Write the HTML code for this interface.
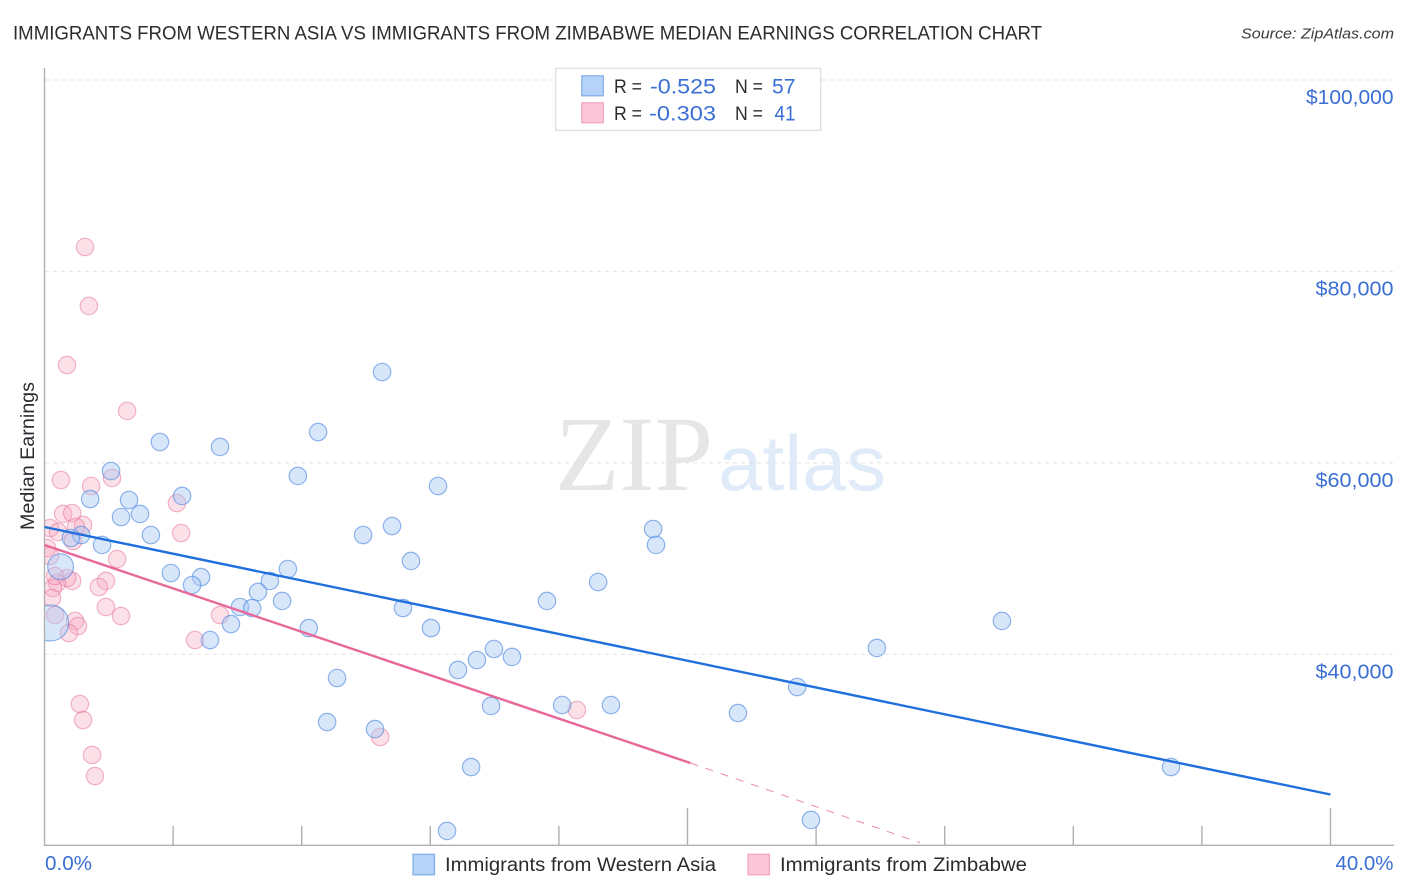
<!DOCTYPE html>
<html lang="en">
<head>
<meta charset="utf-8">
<title>Immigrants from Western Asia vs Immigrants from Zimbabwe Median Earnings Correlation Chart</title>
<style>
html,body{margin:0;padding:0;background:#fff;width:1406px;height:892px;overflow:hidden}
svg{display:block;font-family:"Liberation Sans",sans-serif}
</style>
</head>
<body>
<svg id="chart" width="1406" height="892" viewBox="0 0 1406 892" xmlns="http://www.w3.org/2000/svg">
  <defs>
    <clipPath id="plot-clip"><rect x="45" y="60" width="1355" height="785"/></clipPath>
  </defs>
  <text x="13" y="39.5" font-size="19.5" fill="#2b2b30" textLength="1029" lengthAdjust="spacingAndGlyphs">IMMIGRANTS FROM WESTERN ASIA VS IMMIGRANTS FROM ZIMBABWE MEDIAN EARNINGS CORRELATION CHART</text>
  <text x="1241" y="38.5" font-size="15" font-style="italic" fill="#3a3a40" textLength="153" lengthAdjust="spacingAndGlyphs">Source: ZipAtlas.com</text>

  <g>
    <text x="555" y="490" font-family="'Liberation Serif',serif" font-size="107" fill="#e6e6e6" textLength="158" lengthAdjust="spacingAndGlyphs">ZIP</text>
    <text x="718" y="490" font-size="78" fill="#e0ebfa" textLength="168" lengthAdjust="spacingAndGlyphs">atlas</text>
  </g>

  <g id="grid"></g>
  <g id="axes"></g>
  <g id="points" clip-path="url(#plot-clip)"></g>
  <g id="trends"></g>
  <g id="labels"></g>

  <text transform="translate(34 456) rotate(-90)" text-anchor="middle" font-size="19" fill="#2b2b30" textLength="148" lengthAdjust="spacingAndGlyphs">Median Earnings</text>

  <g>
    <rect x="555.7" y="68.3" width="265" height="62" fill="#fff" stroke="#dcdcdc" stroke-width="1.2"/>
    <rect x="581.8" y="75.8" width="21.5" height="20" fill="#b5d2f8" stroke="#7fabe8" stroke-width="1.2"/>
    <rect x="581.8" y="102.8" width="21.5" height="20" fill="#fcc6d9" stroke="#f2a3bf" stroke-width="1.2"/>
    <text x="614" y="93" font-size="19" fill="#2b2b30" textLength="28" lengthAdjust="spacingAndGlyphs">R =</text>
    <text x="650" y="93.5" font-size="21" fill="#3b6fd4" textLength="66" lengthAdjust="spacingAndGlyphs">-0.525</text>
    <text x="735" y="93" font-size="19" fill="#2b2b30" textLength="28" lengthAdjust="spacingAndGlyphs">N =</text>
    <text x="772" y="93.5" font-size="21" fill="#3b6fd4" textLength="23.5" lengthAdjust="spacingAndGlyphs">57</text>
    <text x="614" y="120" font-size="19" fill="#2b2b30" textLength="28" lengthAdjust="spacingAndGlyphs">R =</text>
    <text x="649" y="120.5" font-size="21" fill="#3b6fd4" textLength="67" lengthAdjust="spacingAndGlyphs">-0.303</text>
    <text x="735" y="120" font-size="19" fill="#2b2b30" textLength="28" lengthAdjust="spacingAndGlyphs">N =</text>
    <text x="774.5" y="120.5" font-size="21" fill="#3b6fd4" textLength="21" lengthAdjust="spacingAndGlyphs">41</text>
  </g>

  <g>
    <rect x="413" y="854.3" width="21.5" height="20.5" fill="#b5d2f8" stroke="#7fabe8" stroke-width="1.2"/>
    <text x="445" y="871" font-size="19" fill="#2b2b30" textLength="271" lengthAdjust="spacingAndGlyphs">Immigrants from Western Asia</text>
    <rect x="748" y="854.3" width="21.5" height="20.5" fill="#fcc6d9" stroke="#f2a3bf" stroke-width="1.2"/>
    <text x="780" y="871" font-size="19" fill="#2b2b30" textLength="247" lengthAdjust="spacingAndGlyphs">Immigrants from Zimbabwe</text>
  </g>
</svg>
<script>
// Tick values and labels
const yTickValues = [100000, 80000, 60000, 40000];
const yTickLabels = ["$100,000", "$80,000", "$60,000", "$40,000"];
const xMinorTicks = [4, 8, 12, 16, 24, 28, 32, 36];
const xMajorTicks = [20, 40];
const xEdgeLabels = ["0.0%", "40.0%"];

// Immigrants from Western Asia: percent, median earnings, relative sample weight
const westernAsiaX = [10.50,8.51,3.59,5.46,2.07,7.88,12.24,1.42,4.28,2.63,2.97,2.38,3.31,1.14,0.82,1.79,9.91,10.81,18.93,19.02,11.40,0.50,7.57,3.93,4.87,4.59,7.01,17.22,6.64,7.39,15.63,6.08,6.46,5.80,5.15,8.22,11.15,12.02,29.78,25.89,13.98,13.45,14.54,12.86,9.10,23.41,16.10,17.62,13.89,21.57,8.79,10.28,13.27,35.04,23.84,12.52,0.19];
const westernAsiaY = [69490,63220,62180,61660,59150,58630,57580,56220,56540,56120,54660,54340,52460,52460,52150,51420,52460,53400,53090,51420,49750,49150,48910,48490,48070,47240,47660,47550,46510,45570,45570,44940,44830,43160,41490,42740,44830,42740,43480,40660,40550,39400,39720,38360,37520,36580,34700,34700,34600,33860,32920,32190,28220,28220,22690,21540,43270];
const westernAsiaWeight = [1,1,1,1,1,1,1,1,1,1,1,1,1,1,1,1,1,1,1,1,1,2.2,1,1,1,1,1,1,1,1,1,1,1,1,1,1,1,1,1,1,1,1,1,1,1,1,1,1,1,1,1,1,1,1,1,1,4.3];

// Immigrants from Zimbabwe: percent, median earnings
const zimbabweX = [1.26,1.38,0.70,2.57,0.51,2.10,1.45,4.12,0.58,0.86,1.20,0.17,0.42,0.98,0.89,4.25,2.26,0.08,0.17,1.91,1.69,0.86,0.70,0.39,0.26,0.33,0.23,1.91,2.38,5.46,4.68,0.33,0.95,1.04,0.76,1.10,1.20,1.48,1.57,10.44,16.56];
const zimbabweY = [82550,76390,70220,65420,58210,58420,57580,55800,54660,54760,53510,53190,52780,53300,51830,52670,49950,51100,50270,47660,47030,47660,47970,47450,46920,48180,45880,44940,44000,44100,41490,44100,43480,42950,42220,34800,33130,29480,27280,31360,34180];

// Regression lines: [start percent, end percent], [start earnings, end earnings]
const westernAsiaTrendX = [0, 40];
const westernAsiaTrendY = [53300, 25350];
const zimbabweTrendX = [0, 20.09];
const zimbabweTrendY = [51420, 28640];
const zimbabweExtrapolatedX = [20.09, 27.23];
const zimbabweExtrapolatedY = [28640, 20310];

// Axis functions
function xScale(p) { return 44.5 + p * 32.15; }
function yScale(v) { return 80 + (100000 - v) * 191.43 / 20000; }
const baseRadius = 8.7;
const NS = "http://www.w3.org/2000/svg";

function make(parent, tag, attrs, text) {
  const el = document.createElementNS(NS, tag);
  for (const k in attrs) el.setAttribute(k, attrs[k]);
  if (text !== undefined) el.textContent = text;
  parent.appendChild(el);
  return el;
}

const gridG = document.getElementById("grid");
const axesG = document.getElementById("axes");
const pointsG = document.getElementById("points");
const trendsG = document.getElementById("trends");
const labelsG = document.getElementById("labels");

yTickValues.forEach(function (v, i) {
  const line = make(gridG, "line", {x1: 45, x2: 1393, y1: yScale(v), y2: yScale(v), stroke: "#e2e2e2", "stroke-width": 1, "stroke-dasharray": "4 4"});
  
  
  const label = make(labelsG, "text", {x: 1393.5, y: yScale(v) + 24, "text-anchor": "end", "font-size": 20, fill: "#3b6fd4", textLength: yTickLabels[i].length === 8 ? 87.5 : 78, lengthAdjust: "spacingAndGlyphs"}, yTickLabels[i]);
  
  
});

const axisColor = "#b0b0b0";
const yAxisLine = make(axesG, "line", {x1: 44.5, x2: 44.5, y1: 68, y2: 846, stroke: axisColor, "stroke-width": 1.4});


const xAxisLine = make(axesG, "line", {x1: 44, x2: 1394, y1: 845.3, y2: 845.3, stroke: axisColor, "stroke-width": 1.4});



xMinorTicks.forEach(function (p) {
  const t = make(axesG, "line", {x1: xScale(p), x2: xScale(p), y1: 826, y2: 845, stroke: axisColor, "stroke-width": 1.4});
  
  
});
xMajorTicks.forEach(function (p) {
  const t = make(axesG, "line", {x1: xScale(p), x2: xScale(p), y1: 808, y2: 845, stroke: axisColor, "stroke-width": 1.4});
  
  
});

const xLabelLeft = make(labelsG, "text", {x: 45, y: 870, "font-size": 20, fill: "#3b6fd4", textLength: 47, lengthAdjust: "spacingAndGlyphs"}, xEdgeLabels[0]);


const xLabelRight = make(labelsG, "text", {x: 1393.5, y: 870, "text-anchor": "end", "font-size": 20, fill: "#3b6fd4", textLength: 58, lengthAdjust: "spacingAndGlyphs"}, xEdgeLabels[1]);



zimbabweX.forEach(function (p, i) {
  const c = make(pointsG, "circle", {cx: xScale(p), cy: yScale(zimbabweY[i]), r: baseRadius, fill: "#f7a8c0", "fill-opacity": 0.36, stroke: "#e8789c", "stroke-opacity": 0.55, "stroke-width": 1.2});
  
  
});
westernAsiaX.forEach(function (p, i) {
  const c = make(pointsG, "circle", {cx: xScale(p), cy: yScale(westernAsiaY[i]), r: baseRadius * Math.sqrt(westernAsiaWeight[i]), fill: "#a8c8f4", "fill-opacity": 0.45, stroke: "#4a85e0", "stroke-opacity": 0.6, "stroke-width": 1.2});
  
  
});

const dashed = make(trendsG, "line", {x1: xScale(zimbabweExtrapolatedX[0]), y1: yScale(zimbabweExtrapolatedY[0]), x2: xScale(zimbabweExtrapolatedX[1]), y2: yScale(zimbabweExtrapolatedY[1]), stroke: "#e8689a", "stroke-opacity": 0.75, "stroke-width": 1, "stroke-dasharray": "8 8"});


const pinkTrend = make(trendsG, "line", {x1: xScale(zimbabweTrendX[0]), y1: yScale(zimbabweTrendY[0]), x2: xScale(zimbabweTrendX[1]), y2: yScale(zimbabweTrendY[1]), stroke: "#e8689a", "stroke-width": 2.4});


const blueTrend = make(trendsG, "line", {x1: xScale(westernAsiaTrendX[0]), y1: yScale(westernAsiaTrendY[0]), x2: xScale(westernAsiaTrendX[1]), y2: yScale(westernAsiaTrendY[1]), stroke: "#1f6fdc", "stroke-width": 2.4});


</script>
</body>
</html>
